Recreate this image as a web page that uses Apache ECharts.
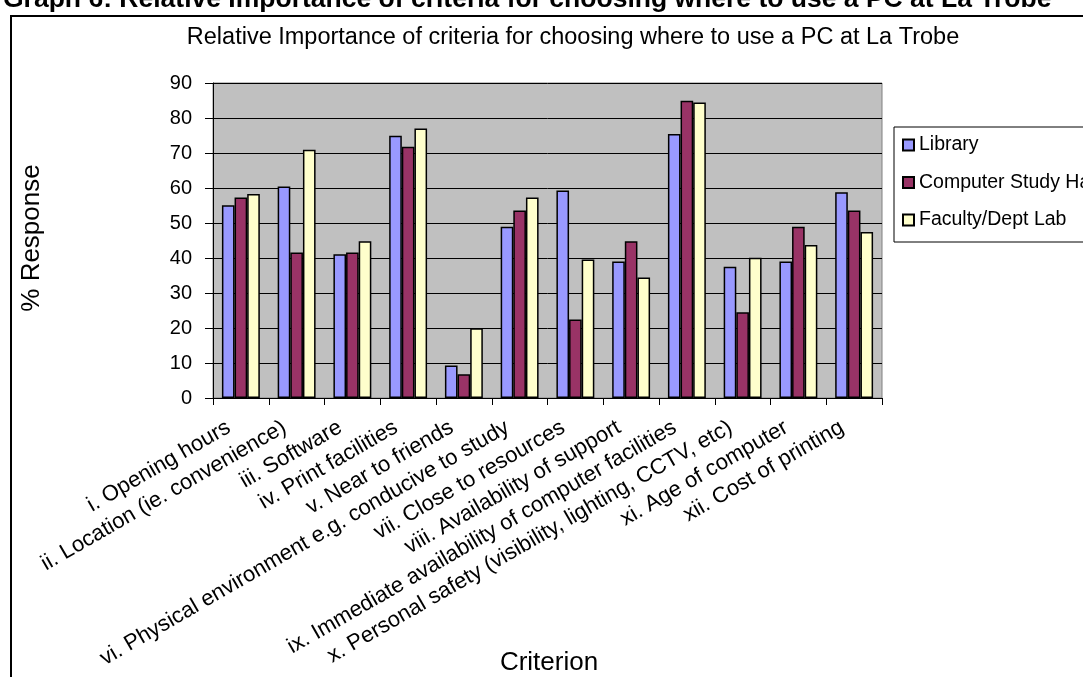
<!DOCTYPE html>
<html>
<head>
<meta charset="utf-8">
<title>Relative Importance of criteria</title>
<script src="https://cdn.jsdelivr.net/npm/echarts@6/dist/echarts.min.js"></script>
<style>
  html, body { margin: 0; padding: 0; background: #fff; }
  #chart { width: 1083px; height: 677px; }
</style>
</head>
<body>
<div id="chart"></div>
<script>
// data
const categories = [
  'i. Opening hours',
  'ii. Location (ie. convenience)',
  'iii. Software',
  'iv. Print facilities',
  'v. Near to friends',
  'vi. Physical environment e.g. conducive to study',
  'vii. Close to resources',
  'viii. Availability of support',
  'ix. Immediate availability of computer facilities',
  'x. Personal safety (visibility, lighting, CCTV, etc)',
  'xi. Age of computer',
  'xii. Cost of printing'
]
const library = [55.1, 60.4, 41.1, 74.9, 9.3, 48.9, 59.3, 39.0, 75.4, 37.5, 39.0, 58.8]
const studyHall = [57.3, 41.6, 41.6, 71.8, 6.8, 53.6, 22.4, 44.8, 84.9, 24.5, 48.9, 53.6]
const facultyLab = [58.3, 70.9, 44.8, 77.0, 19.9, 57.3, 39.6, 34.4, 84.4, 40.1, 43.7, 47.4]
const yTicks = [0, 10, 20, 30, 40, 50, 60, 70, 80, 90]

const font = 'Liberation Sans, Arial, sans-serif'
const chart = echarts.init(document.getElementById('chart'))

function barSeries(name, data, color) {
  return {
    name: name,
    type: 'bar',
    data: data,
    barGap: '0%',
    barCategoryGap: '32%',
    itemStyle: {
      color: color,
      borderColor: '#000',
      borderWidth: 1.5
    }
  }
}

chart.setOption({
  animation: false,
  textStyle: { fontFamily: font, color: '#000' },
  title: {
    text: 'Relative Importance of criteria for choosing where to use a PC at La Trobe',
    left: 568,
    textAlign: 'center',
    top: 21,
    textStyle: { fontSize: 23.5, fontWeight: 'normal', color: '#000', fontFamily: font }
  },
  legend: {
    orient: 'vertical',
    left: 894,
    top: 127,
    padding: [8, 30, 12, 8],
    itemGap: 17.5,
    itemWidth: 11,
    itemHeight: 11,
    icon: 'rect',
    borderColor: '#000',
    borderWidth: 1,
    textStyle: { fontSize: 19.5, color: '#000', fontFamily: font }
  },
  grid: {
    left: 213,
    right: 201,
    top: 83,
    bottom: 279,
    show: true,
    backgroundColor: '#C0C0C0',
    borderColor: '#808080',
    borderWidth: 1
  },
  xAxis: {
    type: 'category',
    data: categories,
    axisLine: { lineStyle: { color: '#000', width: 1 } },
    axisTick: { show: true, length: 7, lineStyle: { color: '#000' } },
    axisLabel: {
      interval: 0,
      rotate: 30,
      margin: 21,
      padding: [0, 14, 0, 0],
      fontSize: 22,
      color: '#000',
      fontFamily: font
    }
  },
  yAxis: {
    type: 'value',
    min: yTicks[0],
    max: yTicks[yTicks.length - 1],
    interval: 10,
    axisLine: { show: true, lineStyle: { color: '#000', width: 1 } },
    axisTick: { show: true, length: 8, lineStyle: { color: '#000' } },
    axisLabel: { fontSize: 20, color: '#000', margin: 21, fontFamily: font },
    splitLine: { lineStyle: { color: '#000', width: 1 } }
  },
  graphic: [
    {
      type: 'text',
      left: 3,
      top: -14,
      style: {
        text: 'Graph 6: Relative Importance of criteria for choosing where to use a PC at La Trobe',
        font: 'bold 26.5px ' + font,
        fill: '#000'
      }
    },
    {
      type: 'rect',
      shape: { x: 11, y: 16, width: 1200, height: 800 },
      style: { fill: 'none', stroke: '#000', lineWidth: 2 },
      z: -1
    },
    {
      type: 'text',
      x: 32,
      y: 238,
      rotation: Math.PI / 2,
      style: {
        text: '% Response',
        font: '26px ' + font,
        fill: '#000',
        align: 'center',
        verticalAlign: 'middle'
      }
    },
    {
      type: 'text',
      x: 549,
      y: 663,
      style: {
        text: 'Criterion',
        font: '26px ' + font,
        fill: '#000',
        align: 'center',
        verticalAlign: 'middle'
      }
    }
  ],
  series: [
    barSeries('Library', library, '#9999FF'),
    barSeries('Computer Study Hall', studyHall, '#993366'),
    barSeries('Faculty/Dept Lab', facultyLab, '#FFFFCC')
  ]
})
</script>
</body>
</html>
